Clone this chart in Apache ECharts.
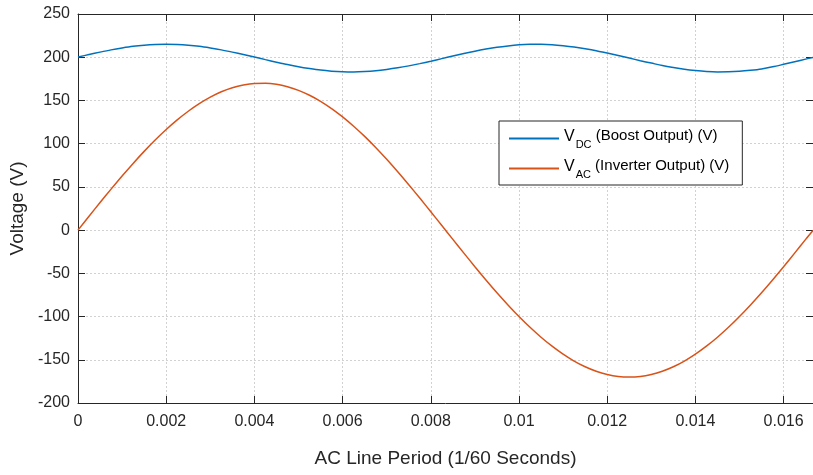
<!DOCTYPE html>
<html>
<head>
<meta charset="utf-8">
<script src="https://cdn.jsdelivr.net/npm/echarts@6/dist/echarts.min.js"></script>
<style>html,body{margin:0;padding:0;background:#fff}#c{width:813px;height:475px}</style>
</head>
<body>
<div id="c"></div>
<script>
// Time samples (s), every 0.25 ms across one 1/60 s line period
const timeS = [0,0.00025,0.0005,0.00075,0.001,0.00125,0.0015,0.00175,0.002,0.00225,0.0025,0.00275,0.003,0.00325,0.0035,0.00375,0.004,0.00425,0.0045,0.00475,0.005,0.00525,0.0055,0.00575,0.006,0.00625,0.0065,0.00675,0.007,0.00725,0.0075,0.00775,0.008,0.00825,0.0085,0.00875,0.009,0.00925,0.0095,0.00975,0.01,0.01025,0.0105,0.01075,0.011,0.01125,0.0115,0.01175,0.012,0.01225,0.0125,0.01275,0.013,0.01325,0.0135,0.01375,0.014,0.01425,0.0145,0.01475,0.015,0.01525,0.0155,0.01575,0.016,0.01625,0.0165,0.016667];
// V_DC (Boost Output) (V)
const vdc = [200.2,203.1,205.9,208.5,210.7,212.6,213.9,214.7,215,214.7,213.9,212.6,210.7,208.5,205.9,203.1,200.2,197.2,194.3,191.5,189.0,186.9,185.1,183.9,183.2,183.0,183.4,184.3,185.8,187.7,190.0,192.6,195.4,198.4,201.4,204.3,207.0,209.4,211.5,213.1,214.3,214.9,215.0,214.5,213.4,211.9,209.9,207.6,204.8,202.0,199.0,196.0,193.2,190.4,188.1,186.1,184.6,183.5,183.0,183.1,183.7,184.9,186.5,188.9,191.8,194.8,197.8,199.8];
// V_AC (Inverter Output) (V)
const vac = [0,16.0,31.9,47.4,62.6,77.2,91.1,104.2,116.4,127.5,137.5,146.3,153.8,160.0,164.7,167.9,169.7,169.9,168.7,165.9,161.7,156.0,149.0,140.6,131.0,120.2,108.4,95.6,81.9,67.5,52.5,37.1,21.3,5.3,-10.7,-26.6,-42.3,-57.6,-72.4,-86.5,-99.9,-112.4,-123.9,-134.3,-143.5,-151.5,-158.1,-163.3,-167.0,-169.3,-170,-169.3,-167.0,-163.3,-158.1,-151.5,-143.5,-134.3,-123.9,-112.4,-99.9,-86.5,-72.4,-57.6,-42.3,-26.6,-10.7,-0.5];
const seriesNames = ['VDC','VAC'];

const font = "'Liberation Sans', Arial, sans-serif";
const axisColor = '#262626';
const gridColor = '#d2d2d2';
const chart = echarts.init(document.getElementById('c'));
const xMax = 1/60;
chart.setOption({
  animation:false,
  grid: {left:78, top:14, right:-2, bottom:72},
  legend: {
    orient:'vertical', left:499, top:121, width:243,
    backgroundColor:'#fff', borderColor:'#262626', borderWidth:1,
    padding:[6,13,5,10], itemGap:7, itemWidth:50, itemHeight:2, icon:'rect',
    data: seriesNames,
    formatter: function(n){
      if(n==='VDC') return '{v|V}{s|DC}{t| (Boost Output) (V)}';
      return '{v|V}{s|AC}{t| (Inverter Output) (V)}';
    },
    textStyle:{
      fontFamily:font, color:'#000', fontSize:15,
      rich:{
        v:{fontFamily:font, fontSize:16, color:'#000', lineHeight:20, verticalAlign:'top'},
        s:{fontFamily:font, fontSize:11, color:'#000', padding:[12,0,0,1], lineHeight:20},
        t:{fontFamily:font, fontSize:15, color:'#000', lineHeight:20, verticalAlign:'top'}
      }
    }
  },
  xAxis: [{
    type:'value', min:0, max:xMax, interval:0.002,
    name:'AC Line Period (1/60 Seconds)', nameLocation:'middle', nameGap:46,
    nameTextStyle:{fontFamily:font, fontSize:19, color:axisColor},
    axisLine:{show:true, onZero:false, lineStyle:{color:axisColor, width:1}},
    axisTick:{show:true, inside:true, length:7, lineStyle:{color:axisColor}},
    axisLabel:{fontFamily:font, fontSize:16, color:axisColor, margin:11, showMaxLabel:false,
      formatter:function(v){ return String(parseFloat(v.toFixed(4))); }},
    splitLine:{show:true, lineStyle:{color:gridColor, type:[2,2], width:1}}
  },{
    type:'value', position:'top', min:0, max:xMax, interval:0.002,
    axisLine:{show:true, onZero:false, lineStyle:{color:axisColor, width:1}},
    axisTick:{show:true, inside:true, length:7, lineStyle:{color:axisColor}},
    axisLabel:{show:false}, splitLine:{show:false}
  }],
  yAxis: [{
    type:'value', min:-200, max:250, interval:50,
    name:'Voltage (V)', nameLocation:'middle', nameGap:48,
    nameTextStyle:{fontFamily:font, fontSize:19, color:axisColor},
    axisLine:{show:true, onZero:false, lineStyle:{color:axisColor, width:1}},
    axisTick:{show:true, inside:true, length:7, lineStyle:{color:axisColor}},
    axisLabel:{fontFamily:font, fontSize:16, color:axisColor, margin:8},
    splitLine:{show:true, lineStyle:{color:gridColor, type:[2,2], width:1}}
  },{
    type:'value', position:'right', min:-200, max:250, interval:50,
    axisLine:{show:true, onZero:false, lineStyle:{color:axisColor, width:1}},
    axisTick:{show:true, inside:true, length:7, lineStyle:{color:axisColor}},
    axisLabel:{show:false}, splitLine:{show:false}
  }],
  series: [{
    name:'VDC', type:'line', smooth:0.3, smoothConstraint:false, showSymbol:false, symbol:'none',
    color:'#0072BD', lineStyle:{width:1.5, color:'#0072BD'},
    data: timeS.map((t,i)=>[t, vdc[i]])
  },{
    name:'VAC', type:'line', smooth:0.3, smoothConstraint:false, showSymbol:false, symbol:'none',
    color:'#D95319', lineStyle:{width:1.5, color:'#D95319'},
    data: timeS.map((t,i)=>[t, vac[i]])
  }]
});
</script>
</body>
</html>
